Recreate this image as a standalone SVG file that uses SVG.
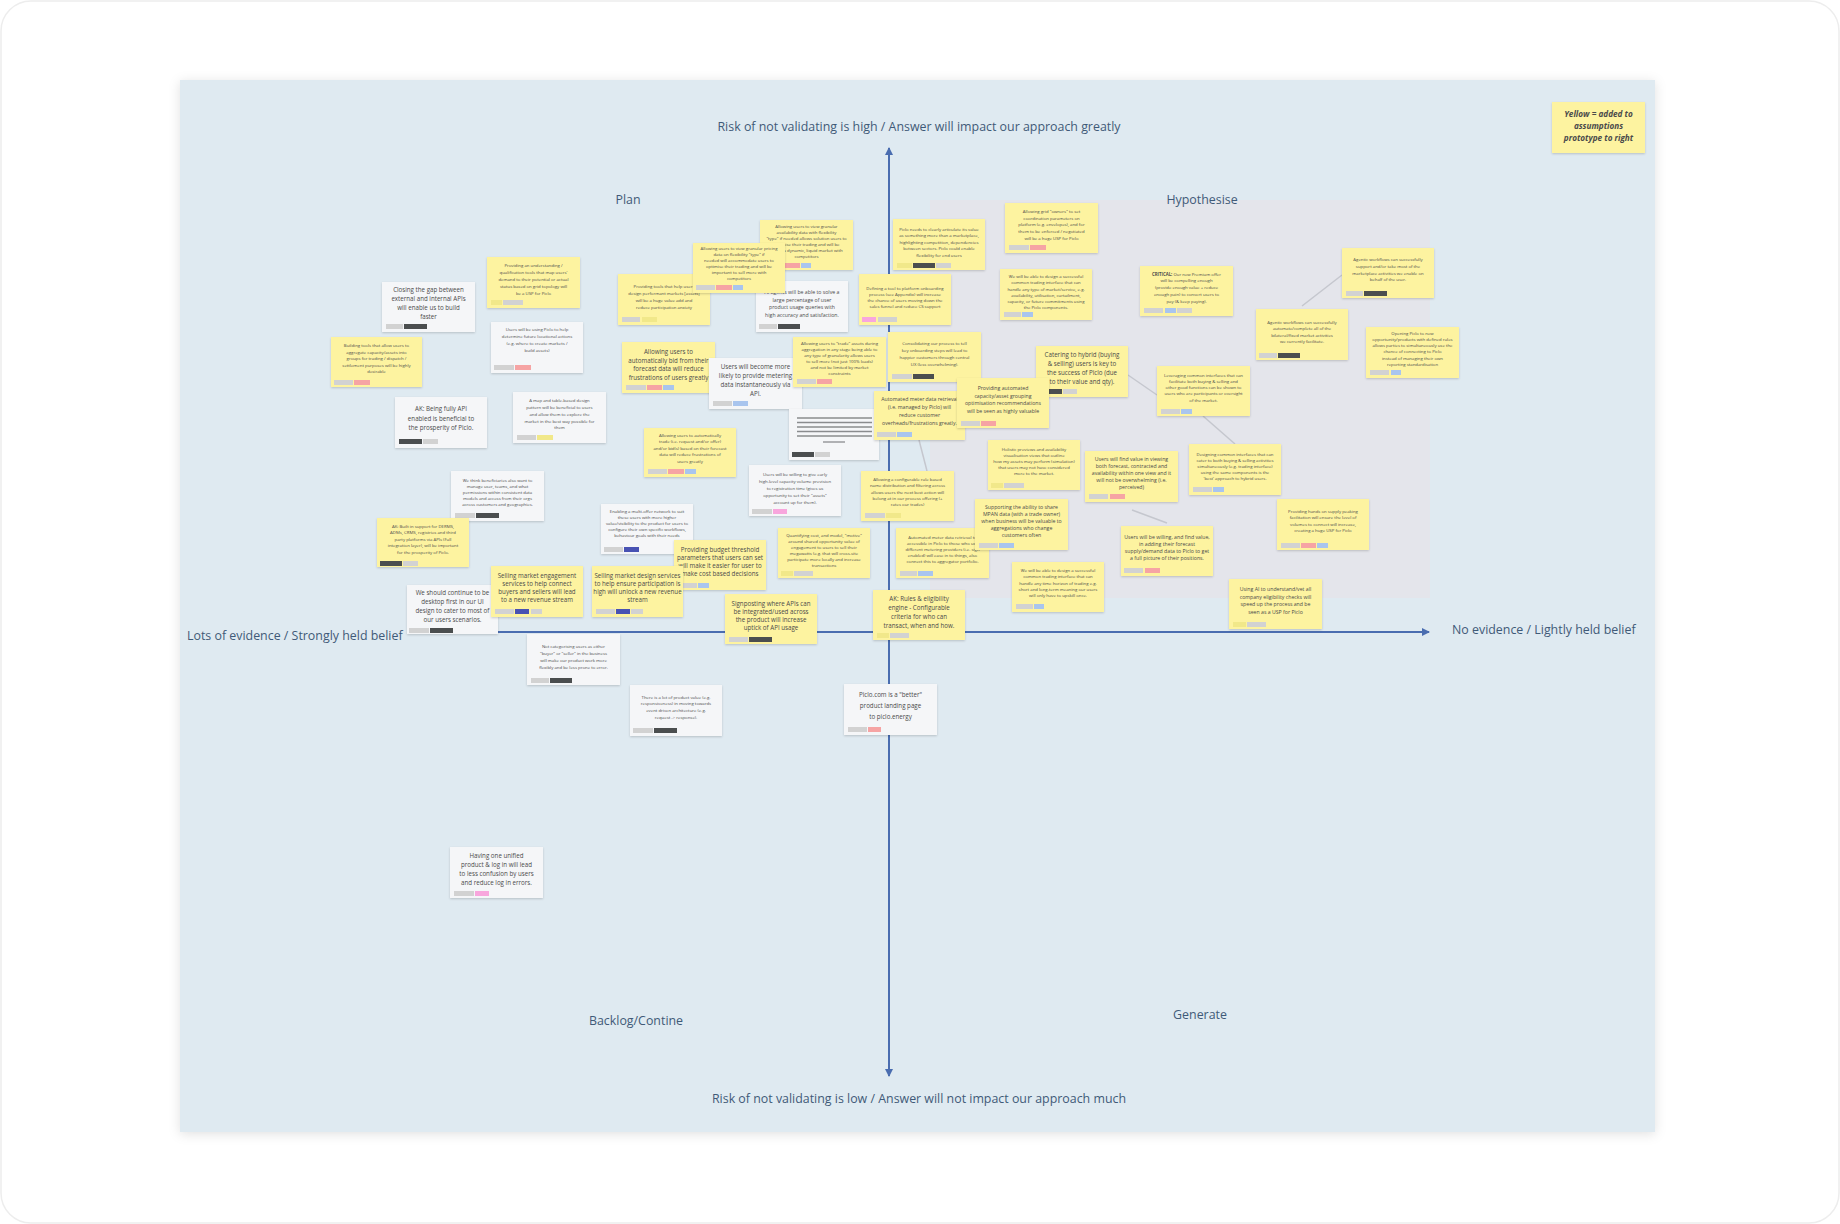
<svg xmlns="http://www.w3.org/2000/svg" width="1840" height="1224" viewBox="0 0 1840 1224">
<defs>
<filter id="sh" x="-10%" y="-10%" width="120%" height="130%"><feDropShadow dx="0" dy="1" stdDeviation="1" flood-color="#000" flood-opacity="0.18"/></filter>
<filter id="bsh" x="-5%" y="-5%" width="110%" height="110%"><feDropShadow dx="0" dy="2" stdDeviation="6" flood-color="#000" flood-opacity="0.12"/></filter>
<marker id="ar" viewBox="0 0 8 8" refX="7" refY="4" markerWidth="4" markerHeight="4" orient="auto-start-reverse"><path d="M0,0 L8,4 L0,8 z" fill="#4a6db0"/></marker>
<style>
.ny{fill:#fdf3a0;filter:url(#sh)}
.nw{fill:#f5f6f8;filter:url(#sh)}
.t{font-family:"Open Sans","Noto Sans",sans-serif;fill:#4a4a4a;text-anchor:middle}
.s{font-size:4.3px}
.ms{font-size:5.2px}
.m{font-size:6.2px}
.g{fill:#d2d2d2}.d{fill:#4b4e4f}.p{fill:#f6a4a4}.b{fill:#a9c5ee}.yy{fill:#f1e88a}.i{fill:#4852b3}.k{fill:#f8a6dd}
.ax{stroke:#4a6db0;stroke-width:2;fill:none}
.cn{stroke:#c5c7ce;stroke-width:1.5;fill:none}
.lab{font-family:"Open Sans","Noto Sans",sans-serif;font-size:12.4px;fill:#3f5a78}
.ln{stroke:#8a8c8e;stroke-width:1.3}
</style>
</defs>
<rect x="0" y="0" width="1840" height="1224" fill="#ffffff"/>
<rect x="1" y="1" width="1838" height="1222" rx="30" fill="none" stroke="#ededed" stroke-width="1.5"/>
<rect x="180" y="80" width="1475" height="1052" fill="#dfeaf1" filter="url(#bsh)"/>
<rect x="930" y="200" width="500" height="398" fill="#e4e5eb"/>

<g id="labels">
<text class="lab" x="919" y="131" text-anchor="middle">Risk of not validating is high / Answer will impact our approach greatly</text>
<text class="lab" x="919" y="1103" text-anchor="middle">Risk of not validating is low / Answer will not impact our approach much</text>
<text class="lab" x="187" y="640">Lots of evidence / Strongly held belief</text>
<text class="lab" x="1452" y="634">No evidence / Lightly held belief</text>
<text class="lab" x="628" y="204" text-anchor="middle">Plan</text>
<text class="lab" x="1202" y="204" text-anchor="middle">Hypothesise</text>
<text class="lab" x="636" y="1025" text-anchor="middle">Backlog/Contine</text>
<text class="lab" x="1200" y="1019" text-anchor="middle">Generate</text>
</g>

<g id="connectors">
<line class="ax" x1="889" y1="148" x2="889" y2="1076" marker-start="url(#ar)" marker-end="url(#ar)"/>
<line class="ax" x1="412" y1="632" x2="1429" y2="632" marker-end="url(#ar)"/>
<line class="cn" x1="1302" y1="306" x2="1342" y2="275"/>
<line class="cn" x1="1128" y1="375" x2="1157" y2="395"/>
<line class="cn" x1="1203" y1="416" x2="1235" y2="444"/>
<line class="cn" x1="1132" y1="510" x2="1167" y2="523"/>
<line class="cn" x1="919" y1="440" x2="927" y2="471"/>
</g>

<g id="legend">
<rect x="1552" y="102" width="93" height="51" class="ny"/>
<text class="t" font-size="8.2px" font-weight="700" font-style="italic" fill="#444"><tspan x="1598.5" y="117">Yellow = added to</tspan><tspan x="1598.5" y="129">assumptions</tspan><tspan x="1598.5" y="141">prototype to right</tspan></text>
</g>

<g id="n1"><rect class="nw" x="382" y="282" width="93" height="50"/>
<text class="t m"><tspan x="428.5" y="292">Closing the gap between</tspan><tspan x="428.5" y="301">external and internal APIs</tspan><tspan x="428.5" y="310">will enable us to build</tspan><tspan x="428.5" y="319">faster</tspan></text>
<rect class="g" x="386" y="324" width="17" height="5"/><rect class="d" x="404" y="324" width="23" height="5"/></g>

<g id="n2"><rect class="ny" x="487" y="257" width="93" height="51"/>
<text class="t s"><tspan x="533.5" y="266.5">Providing an understanding /</tspan><tspan x="533.5" y="273.5">qualification tools that map users'</tspan><tspan x="533.5" y="280.5">demand to their potential or actual</tspan><tspan x="533.5" y="287.5">status based on grid topology will</tspan><tspan x="533.5" y="294.5">be a USP for Piclo</tspan></text>
<rect class="yy" x="491" y="300" width="11" height="5"/><rect class="g" x="503" y="300" width="20" height="5"/></g>

<g id="n3"><rect class="ny" x="331" y="337" width="91" height="50"/>
<text class="t s"><tspan x="376.5" y="347">Building tools that allow users to</tspan><tspan x="376.5" y="353.5">aggregate capacity/assets into</tspan><tspan x="376.5" y="360">groups for trading / dispatch /</tspan><tspan x="376.5" y="366.5">settlement purposes will be highly</tspan><tspan x="376.5" y="373">desirable</tspan></text>
<rect class="g" x="334" y="380" width="19" height="5"/><rect class="p" x="354" y="380" width="16" height="5"/></g>

<g id="n4"><rect class="nw" x="491" y="322" width="92" height="51"/>
<text class="t s"><tspan x="537" y="331">Users will be using Piclo to help</tspan><tspan x="537" y="338">determine future locational actions</tspan><tspan x="537" y="345">(e.g. where to create markets /</tspan><tspan x="537" y="352">build assets)</tspan></text>
<rect class="g" x="494" y="365" width="20" height="5"/><rect class="p" x="515" y="365" width="16" height="5"/></g>

<g id="n5"><rect class="nw" x="395" y="397" width="92" height="51"/>
<text class="t m"><tspan x="441" y="411">AK: Being fully API</tspan><tspan x="441" y="420.5">enabled is beneficial to</tspan><tspan x="441" y="430">the prosperity of Piclo.</tspan></text>
<rect class="d" x="399" y="439" width="23" height="5"/><rect class="g" x="423" y="439" width="15" height="5"/></g>

<g id="n6"><rect class="nw" x="513" y="392" width="93" height="51"/>
<text class="t s"><tspan x="559.5" y="401.5">A map and table-based design</tspan><tspan x="559.5" y="408.5">pattern will be beneficial to users</tspan><tspan x="559.5" y="415.5">and allow them to explore the</tspan><tspan x="559.5" y="422.5">market in the best way possible for</tspan><tspan x="559.5" y="429">them</tspan></text>
<rect class="g" x="517" y="435" width="19" height="5"/><rect class="yy" x="537" y="435" width="16" height="5"/></g>

<g id="n7"><rect class="ny" x="618" y="274" width="92" height="51"/>
<text class="t s"><tspan x="664" y="287.5">Providing tools that help users</tspan><tspan x="664" y="294.5">design performant markets [assets]</tspan><tspan x="664" y="301.5">will be a huge value add and</tspan><tspan x="664" y="308.5">reduce participation anxiety</tspan></text>
<rect class="g" x="622" y="317" width="18" height="5"/><rect class="yy" x="642" y="317" width="15" height="5"/></g>

<g id="n9"><rect class="ny" x="760" y="220" width="93" height="50"/>
<text class="t s"><tspan x="806.5" y="227.5">Allowing users to view granular</tspan><tspan x="806.5" y="233.5">availability data with flexibility</tspan><tspan x="806.5" y="239.5">"type" if needed allows solution users to</tspan><tspan x="806.5" y="245.5">optimise their trading and will be</tspan><tspan x="806.5" y="251.5">key to a dynamic, liquid market with</tspan><tspan x="806.5" y="257.5">competitors</tspan></text>
<rect class="g" x="763" y="263" width="20" height="5"/><rect class="p" x="785" y="263" width="15" height="5"/><rect class="b" x="801" y="263" width="10" height="5"/></g>

<g id="n10"><rect class="nw" x="756" y="281" width="92" height="51"/>
<text class="t ms"><tspan x="802" y="294">AI agents will be able to solve a</tspan><tspan x="802" y="301.5">large percentage of user</tspan><tspan x="802" y="309">product usage queries with</tspan><tspan x="802" y="316.5">high accuracy and satisfaction.</tspan></text>
<rect class="g" x="759" y="324" width="18" height="5"/><rect class="d" x="778" y="324" width="22" height="5"/></g>

<g id="n8"><rect class="ny" x="693" y="243" width="92" height="50"/>
<text class="t s"><tspan x="739" y="249.5">Allowing users to view granular pricing</tspan><tspan x="739" y="255.5">data on flexibility "type" if</tspan><tspan x="739" y="261.5">needed will accommodate users to</tspan><tspan x="739" y="267.5">optimise their trading and will be</tspan><tspan x="739" y="273.5">important to sell more with</tspan><tspan x="739" y="279.5">competitors</tspan></text>
<rect class="g" x="696" y="285" width="19" height="5"/><rect class="p" x="716" y="285" width="16" height="5"/><rect class="b" x="733" y="285" width="10" height="5"/></g>

<g id="n11"><rect class="ny" x="622" y="342" width="93" height="51"/>
<text class="t m"><tspan x="668.5" y="354">Allowing users to</tspan><tspan x="668.5" y="362.5">automatically bid from their</tspan><tspan x="668.5" y="371">forecast data will reduce</tspan><tspan x="668.5" y="379.5">frustrations of users greatly</tspan></text>
<rect class="g" x="626" y="385" width="20" height="5"/><rect class="p" x="647" y="385" width="15" height="5"/><rect class="b" x="663" y="385" width="11" height="5"/></g>

<g id="n12"><rect class="nw" x="709" y="358" width="93" height="51"/>
<text class="t m"><tspan x="755.5" y="369">Users will become more</tspan><tspan x="755.5" y="378">likely to provide metering</tspan><tspan x="755.5" y="387">data instantaneously via</tspan><tspan x="755.5" y="395.5">API.</tspan></text>
<rect class="g" x="713" y="401" width="19" height="5"/><rect class="b" x="733" y="401" width="15" height="5"/></g>

<g id="n13"><rect class="ny" x="793" y="337" width="93" height="50"/>
<text class="t s"><tspan x="839.5" y="344.5">Allowing users to "trade" assets during</tspan><tspan x="839.5" y="350.5">aggregation in any stage being able to</tspan><tspan x="839.5" y="356.5">any type of granularity allows users</tspan><tspan x="839.5" y="362.5">to sell more (not just 100% loads)</tspan><tspan x="839.5" y="368.5">and not be limited by market</tspan><tspan x="839.5" y="374.5">constraints</tspan></text>
<rect class="g" x="797" y="379" width="19" height="5"/><rect class="p" x="817" y="379" width="15" height="5"/></g>

<g id="n14"><rect class="nw" x="789" y="409" width="90" height="51"/>
<line class="ln" x1="797" y1="418" x2="872" y2="418"/><line class="ln" x1="797" y1="422.5" x2="872" y2="422.5"/><line class="ln" x1="797" y1="427" x2="872" y2="427"/><line class="ln" x1="797" y1="431.5" x2="872" y2="431.5"/><line class="ln" x1="797" y1="436" x2="872" y2="436"/><line class="ln" x1="823" y1="442" x2="845" y2="442"/>
<rect class="d" x="792" y="452" width="22" height="5"/><rect class="g" x="815" y="452" width="15" height="5"/></g>

<g id="n15"><rect class="ny" x="859" y="274" width="92" height="51"/>
<text class="t s"><tspan x="905" y="289.5">Defining a tool to platform onboarding</tspan><tspan x="905" y="295.5">process (see Appendix) will increase</tspan><tspan x="905" y="301.5">the chance of users moving down the</tspan><tspan x="905" y="307.5">sales funnel and reduce CS support</tspan></text>
<rect class="k" x="862" y="317" width="14" height="5"/><rect class="g" x="878" y="317" width="19" height="5"/></g>

<g id="n16"><rect class="ny" x="888" y="332" width="93" height="50"/>
<text class="t s"><tspan x="934.5" y="344.5">Consolidating our process to tell</tspan><tspan x="934.5" y="351.5">key onboarding steps will lead to</tspan><tspan x="934.5" y="358.5">happier customers through central</tspan><tspan x="934.5" y="365.5">UX (less overwhelming).</tspan></text>
<rect class="g" x="892" y="374" width="20" height="5"/><rect class="d" x="913" y="374" width="21" height="5"/></g>

<g id="n17"><rect class="ny" x="874" y="391" width="91" height="49"/>
<text class="t ms"><tspan x="919.5" y="401">Automated meter data retrieval</tspan><tspan x="919.5" y="409">(i.e. managed by Piclo) will</tspan><tspan x="919.5" y="417">reduce customer</tspan><tspan x="919.5" y="425">overheads/frustrations greatly.</tspan></text>
<rect class="g" x="877" y="432" width="19" height="5"/><rect class="b" x="897" y="432" width="15" height="5"/></g>

<g id="n18"><rect class="ny" x="893" y="219" width="92" height="51"/>
<text class="t s"><tspan x="939" y="230.5">Piclo needs to clearly articulate its value</tspan><tspan x="939" y="237">as something more than a marketplace,</tspan><tspan x="939" y="243.5">highlighting competition, dependencies</tspan><tspan x="939" y="250">between sectors. Piclo could enable</tspan><tspan x="939" y="256.5">flexibility for end users</tspan></text>
<rect class="yy" x="897" y="263" width="15" height="5"/><rect class="d" x="913" y="263" width="22" height="5"/><rect class="g" x="936" y="263" width="15" height="5"/></g>

<g id="n19"><rect class="ny" x="1005" y="203" width="93" height="50"/>
<text class="t s"><tspan x="1051.5" y="212.5">Allowing grid "owners" to set</tspan><tspan x="1051.5" y="219.5">coordination parameters on</tspan><tspan x="1051.5" y="226">platform (e.g. envelopes), and for</tspan><tspan x="1051.5" y="232.5">them to be enforced / negotiated</tspan><tspan x="1051.5" y="239.5">will be a huge USP for Piclo</tspan></text>
<rect class="g" x="1009" y="245" width="20" height="5"/><rect class="p" x="1030" y="245" width="16" height="5"/></g>

<g id="n20"><rect class="ny" x="1000" y="269" width="92" height="51"/>
<text class="t s"><tspan x="1046" y="277.5">We will be able to design a successful</tspan><tspan x="1046" y="284">common trading interface that can</tspan><tspan x="1046" y="290.5">handle any type of market/service, e.g.</tspan><tspan x="1046" y="296.5">availability, utilisation, curtailment,</tspan><tspan x="1046" y="302.5">capacity, or future commitments using</tspan><tspan x="1046" y="308.5">the Piclo components.</tspan></text>
<rect class="g" x="1004" y="312" width="17" height="5"/><rect class="b" x="1022" y="312" width="11" height="5"/></g>

<g id="n21"><rect class="ny" x="1140" y="266" width="93" height="50"/>
<text class="t s"><tspan x="1186.5" y="275.5"><tspan font-weight="700">CRITICAL:</tspan> Our new Premium offer</tspan><tspan x="1186.5" y="281.5">will be compelling enough</tspan><tspan x="1186.5" y="288.5">(provide enough value + reduce</tspan><tspan x="1186.5" y="295.5">enough pain) to convert users to</tspan><tspan x="1186.5" y="302.5">pay (&amp; keep paying).</tspan></text>
<rect class="g" x="1144" y="308" width="19" height="5"/><rect class="b" x="1165" y="308" width="11" height="5"/><rect class="g" x="1177" y="308" width="15" height="5"/></g>

<g id="n22"><rect class="ny" x="1036" y="346" width="92" height="51"/>
<text class="t m"><tspan x="1082" y="357">Catering to hybrid (buying</tspan><tspan x="1082" y="366">&amp; selling) users is key to</tspan><tspan x="1082" y="375">the success of Piclo (due</tspan><tspan x="1082" y="384">to their value and qty).</tspan></text>
<rect class="d" x="1040" y="389" width="22" height="5"/><rect class="g" x="1063" y="389" width="14" height="5"/></g>

<g id="n23"><rect class="ny" x="957" y="378" width="92" height="50"/>
<text class="t ms"><tspan x="1003" y="390">Providing automated</tspan><tspan x="1003" y="397.5">capacity/asset grouping</tspan><tspan x="1003" y="405">optimisation recommendations</tspan><tspan x="1003" y="412.5">will be seen as highly valuable</tspan></text>
<rect class="g" x="961" y="421" width="19" height="5"/><rect class="p" x="981" y="421" width="15" height="5"/></g>

<g id="n24"><rect class="ny" x="1157" y="366" width="93" height="50"/>
<text class="t s"><tspan x="1203.5" y="376.5">Leveraging common interfaces that can</tspan><tspan x="1203.5" y="382.5">facilitate both buying &amp; selling and</tspan><tspan x="1203.5" y="388.5">other good functions can be shown to</tspan><tspan x="1203.5" y="395">users who are participants or oversight</tspan><tspan x="1203.5" y="401.5">of the market.</tspan></text>
<rect class="g" x="1161" y="409" width="19" height="5"/><rect class="b" x="1181" y="409" width="11" height="5"/></g>

<g id="n25"><rect class="ny" x="1342" y="248" width="92" height="50"/>
<text class="t s"><tspan x="1388" y="260.5">Agentic workflows can successfully</tspan><tspan x="1388" y="267.5">support and/or take most of the</tspan><tspan x="1388" y="274.5">marketplace activities we enable on</tspan><tspan x="1388" y="281">behalf of the user.</tspan></text>
<rect class="g" x="1346" y="291" width="17" height="5"/><rect class="d" x="1364" y="291" width="23" height="5"/></g>

<g id="n26"><rect class="ny" x="1256" y="309" width="92" height="51"/>
<text class="t s"><tspan x="1302" y="323.5">Agentic workflows can successfully</tspan><tspan x="1302" y="330">automate/complete all of the</tspan><tspan x="1302" y="336.5">bilateral/fixed market activities</tspan><tspan x="1302" y="343">we currently facilitate.</tspan></text>
<rect class="g" x="1259" y="353" width="18" height="5"/><rect class="d" x="1278" y="353" width="22" height="5"/></g>

<g id="n27"><rect class="ny" x="1366" y="327" width="93" height="51"/>
<text class="t s"><tspan x="1412.5" y="334.5">Opening Piclo to new</tspan><tspan x="1412.5" y="340.5">opportunity/products with defined rules</tspan><tspan x="1412.5" y="346.5">allows parties to simultaneously use the</tspan><tspan x="1412.5" y="353">chance of connecting to Piclo</tspan><tspan x="1412.5" y="359.5">instead of managing their own</tspan><tspan x="1412.5" y="365.5">reporting standardisation</tspan></text>
<rect class="g" x="1370" y="370" width="19" height="5"/><rect class="b" x="1391" y="370" width="10" height="5"/></g>

<g id="n28"><rect class="ny" x="1189" y="444" width="92" height="51"/>
<text class="t s"><tspan x="1235" y="455.5">Designing common interfaces that can</tspan><tspan x="1235" y="461.5">cater to both buying &amp; selling activities</tspan><tspan x="1235" y="467.5">simultaneously (e.g. trading interface)</tspan><tspan x="1235" y="473.5">using the same components is the</tspan><tspan x="1235" y="479.5">'best' approach to hybrid users.</tspan></text>
<rect class="g" x="1193" y="487" width="19" height="5"/><rect class="b" x="1213" y="487" width="11" height="5"/></g>

<g id="n30"><rect class="ny" x="1085" y="451" width="93" height="51"/>
<text class="t ms"><tspan x="1131.5" y="461">Users will find value in viewing</tspan><tspan x="1131.5" y="468">both forecast, contracted and</tspan><tspan x="1131.5" y="475">availability within one view and it</tspan><tspan x="1131.5" y="482">will not be overwhelming (i.e.</tspan><tspan x="1131.5" y="489">perceived)</tspan></text>
<rect class="g" x="1089" y="494" width="19" height="5"/><rect class="p" x="1110" y="494" width="15" height="5"/></g>

<g id="n31"><rect class="ny" x="1121" y="526" width="92" height="50"/>
<text class="t ms"><tspan x="1167" y="539">Users will be willing, and find value,</tspan><tspan x="1167" y="546">in adding their forecast</tspan><tspan x="1167" y="553">supply/demand data to Piclo to get</tspan><tspan x="1167" y="560">a full picture of their positions.</tspan></text>
<rect class="g" x="1124" y="568" width="19" height="5"/><rect class="p" x="1145" y="568" width="15" height="5"/></g>

<g id="n32"><rect class="ny" x="988" y="440" width="92" height="50"/>
<text class="t s"><tspan x="1034" y="450.5">Holistic previews and availability</tspan><tspan x="1034" y="456.5">visualisation views that outline</tspan><tspan x="1034" y="462.5">how my assets may perform (simulation)</tspan><tspan x="1034" y="468.5">that users may not have considered</tspan><tspan x="1034" y="474.5">more to the market.</tspan></text>
<rect class="yy" x="991" y="483" width="12" height="5"/><rect class="g" x="1004" y="483" width="20" height="5"/></g>

<g id="n33"><rect class="ny" x="861" y="471" width="93" height="50"/>
<text class="t s"><tspan x="907.5" y="480.5">Allowing a configurable rule based</tspan><tspan x="907.5" y="487">name distribution and filtering across</tspan><tspan x="907.5" y="493.5">allows users the next best action will</tspan><tspan x="907.5" y="499.5">belong at in our process offering (+</tspan><tspan x="907.5" y="505.5">rates our trades)</tspan></text>
<rect class="g" x="865" y="513" width="20" height="5"/><rect class="yy" x="886" y="513" width="15" height="5"/></g>

<g id="n35"><rect class="ny" x="896" y="528" width="93" height="50"/>
<text class="t s"><tspan x="942.5" y="539">Automated meter data retrieval to</tspan><tspan x="942.5" y="545">accessible in Piclo to those who use</tspan><tspan x="942.5" y="551">different metering providers (i.e. sign</tspan><tspan x="942.5" y="557">enabled) will ease in to things, also</tspan><tspan x="942.5" y="563">connect this to aggregator portfolio.</tspan></text>
<rect class="g" x="900" y="571" width="17" height="5"/><rect class="b" x="918" y="571" width="15" height="5"/></g>

<g id="n34"><rect class="ny" x="975" y="499" width="93" height="51"/>
<text class="t ms"><tspan x="1021.5" y="509">Supporting the ability to share</tspan><tspan x="1021.5" y="516">MPAN data (with a trade owner)</tspan><tspan x="1021.5" y="523">when business will be valuable to</tspan><tspan x="1021.5" y="530">aggregations who change</tspan><tspan x="1021.5" y="537">customers often</tspan></text>
<rect class="g" x="979" y="543" width="19" height="5"/><rect class="b" x="999" y="543" width="15" height="5"/></g>

<g id="n36"><rect class="ny" x="1012" y="562" width="92" height="50"/>
<text class="t s"><tspan x="1058" y="571.5">We will be able to design a successful</tspan><tspan x="1058" y="578">common trading interface that can</tspan><tspan x="1058" y="584.5">handle any time horizon of trading e.g.</tspan><tspan x="1058" y="590.5">short and long-term meaning our users</tspan><tspan x="1058" y="596.5">will only have to upskill once.</tspan></text>
<rect class="g" x="1016" y="604" width="17" height="5"/><rect class="b" x="1034" y="604" width="10" height="5"/></g>

<g id="n37"><rect class="ny" x="873" y="590" width="92" height="50"/>
<text class="t m"><tspan x="919" y="601">AK: Rules &amp; eligibility</tspan><tspan x="919" y="610">engine - Configurable</tspan><tspan x="919" y="619">criteria for who can</tspan><tspan x="919" y="628">transact, when and how.</tspan></text>
<rect class="yy" x="877" y="633" width="12" height="5"/><rect class="g" x="890" y="633" width="19" height="5"/></g>

<g id="n38"><rect class="ny" x="1277" y="499" width="92" height="51"/>
<text class="t s"><tspan x="1323" y="512.5">Providing hands on supply peaking</tspan><tspan x="1323" y="519">facilitation will ensure the level of</tspan><tspan x="1323" y="525.5">volumes to connect will increase,</tspan><tspan x="1323" y="532">creating a huge USP for Piclo</tspan></text>
<rect class="g" x="1281" y="543" width="19" height="5"/><rect class="p" x="1301" y="543" width="15" height="5"/><rect class="b" x="1317" y="543" width="11" height="5"/></g>

<g id="n39"><rect class="ny" x="1229" y="579" width="93" height="50"/>
<text class="t ms"><tspan x="1275.5" y="591">Using AI to understand/vet all</tspan><tspan x="1275.5" y="598.5">company eligibility checks will</tspan><tspan x="1275.5" y="606">speed up the process and be</tspan><tspan x="1275.5" y="613.5">seen as a USP for Piclo</tspan></text>
<rect class="yy" x="1233" y="622" width="13" height="5"/><rect class="g" x="1247" y="622" width="19" height="5"/></g>

<g id="n40"><rect class="nw" x="451" y="471" width="93" height="50"/>
<text class="t s"><tspan x="497.5" y="481.5">We think beneficiaries also want to</tspan><tspan x="497.5" y="487.5">manage user, teams, and what</tspan><tspan x="497.5" y="493.5">permissions within consistent data</tspan><tspan x="497.5" y="499.5">models and access from their orgs</tspan><tspan x="497.5" y="505.5">across customers and geographies.</tspan></text>
<rect class="g" x="455" y="513" width="20" height="5"/><rect class="d" x="476" y="513" width="23" height="5"/></g>

<g id="n41"><rect class="ny" x="377" y="518" width="92" height="49"/>
<text class="t s"><tspan x="423" y="527.5">AK: Built in support for DERMS,</tspan><tspan x="423" y="534">ADMs, CRMS, registries and third</tspan><tspan x="423" y="540.5">party platforms via APIs (Full</tspan><tspan x="423" y="547">integration layer), will be important</tspan><tspan x="423" y="553.5">for the prosperity of Piclo.</tspan></text>
<rect class="d" x="380" y="561" width="22" height="5"/><rect class="g" x="403" y="561" width="15" height="5"/></g>

<g id="n42"><rect class="nw" x="407" y="585" width="91" height="49"/>
<text class="t m"><tspan x="452.5" y="595">We should continue to be</tspan><tspan x="452.5" y="604">desktop first in our UI</tspan><tspan x="452.5" y="613">design to cater to most of</tspan><tspan x="452.5" y="622">our users scenarios.</tspan></text>
<rect class="g" x="409" y="628" width="20" height="5"/><rect class="d" x="430" y="628" width="23" height="5"/></g>

<g id="n43"><rect class="ny" x="491" y="566" width="92" height="51"/>
<text class="t m"><tspan x="537" y="578">Selling market engagement</tspan><tspan x="537" y="586">services to help connect</tspan><tspan x="537" y="594">buyers and sellers will lead</tspan><tspan x="537" y="602">to a new revenue stream</tspan></text>
<rect class="g" x="495" y="609" width="19" height="5"/><rect class="i" x="515" y="609" width="14" height="5"/><rect class="g" x="531" y="609" width="11" height="5"/></g>

<g id="n45"><rect class="nw" x="601" y="504" width="92" height="50"/>
<text class="t s"><tspan x="647" y="512.5">Enabling a multi-offer network to suit</tspan><tspan x="647" y="518.5">these users with more higher</tspan><tspan x="647" y="524.5">value/visibility to the product for users to</tspan><tspan x="647" y="530.5">configure their own specific workflows,</tspan><tspan x="647" y="536.5">behaviour goals with their needs</tspan></text>
<rect class="g" x="604" y="547" width="19" height="5"/><rect class="i" x="624" y="547" width="15" height="5"/></g>

<g id="n46"><rect class="ny" x="644" y="428" width="92" height="49"/>
<text class="t s"><tspan x="690" y="436.5">Allowing users to automatically</tspan><tspan x="690" y="443">trade (i.e. request and/or offer)</tspan><tspan x="690" y="449.5">and/or bid(s) based on their forecast</tspan><tspan x="690" y="456">data will reduce frustrations of</tspan><tspan x="690" y="462.5">users greatly</tspan></text>
<rect class="g" x="648" y="469" width="19" height="5"/><rect class="p" x="668" y="469" width="16" height="5"/><rect class="b" x="685" y="469" width="11" height="5"/></g>

<g id="n47"><rect class="nw" x="749" y="465" width="92" height="51"/>
<text class="t s" font-size="4.7px"><tspan x="795" y="476">Users will be willing to give early</tspan><tspan x="795" y="483">high-level capacity volume prevision</tspan><tspan x="795" y="490">to registration time (gives us</tspan><tspan x="795" y="497">opportunity to set their "assets"</tspan><tspan x="795" y="504">account up for them).</tspan></text>
<rect class="g" x="752" y="509" width="20" height="5"/><rect class="k" x="773" y="509" width="14" height="5"/></g>

<g id="n48"><rect class="ny" x="674" y="540" width="92" height="50"/>
<text class="t m" font-size="5.8px"><tspan x="720" y="552">Providing budget threshold</tspan><tspan x="720" y="560">parameters that users can set</tspan><tspan x="720" y="568">will make it easier for user to</tspan><tspan x="720" y="576">make cost based decisions</tspan></text>
<rect class="g" x="678" y="583" width="19" height="5"/><rect class="b" x="698" y="583" width="11" height="5"/></g>

<g id="n44"><rect class="ny" x="592" y="566" width="91" height="51"/>
<text class="t m" font-size="5.8px"><tspan x="637.5" y="578">Selling market design services</tspan><tspan x="637.5" y="586">to help ensure participation is</tspan><tspan x="637.5" y="594">high will unlock a new revenue</tspan><tspan x="637.5" y="602">stream</tspan></text>
<rect class="g" x="596" y="609" width="19" height="5"/><rect class="i" x="616" y="609" width="14" height="5"/><rect class="g" x="631" y="609" width="12" height="5"/></g>

<g id="n49"><rect class="ny" x="778" y="528" width="92" height="50"/>
<text class="t s"><tspan x="824" y="536.5">Quantifying cost, and model, "motive"</tspan><tspan x="824" y="542.5">around shared opportunity value of</tspan><tspan x="824" y="548.5">engagement to users to sell their</tspan><tspan x="824" y="554.5">megawatts (e.g. that will cross-site</tspan><tspan x="824" y="560.5">participate more locally and increase</tspan><tspan x="824" y="566.5">transactions</tspan></text>
<rect class="yy" x="781" y="571" width="12" height="5"/><rect class="g" x="794" y="571" width="19" height="5"/></g>

<g id="n50"><rect class="ny" x="725" y="594" width="92" height="50"/>
<text class="t m" font-size="5.8px"><tspan x="771" y="606">Signposting where APIs can</tspan><tspan x="771" y="614">be integrated/used across</tspan><tspan x="771" y="622">the product will increase</tspan><tspan x="771" y="630">uptick of API usage</tspan></text>
<rect class="g" x="729" y="637" width="19" height="5"/><rect class="d" x="749" y="637" width="23" height="5"/></g>

<g id="n51"><rect class="nw" x="527" y="634" width="93" height="51"/>
<text class="t s"><tspan x="573.5" y="647.5">Not categorising users as either</tspan><tspan x="573.5" y="654.5">"buyer" or "seller" in the business</tspan><tspan x="573.5" y="661.5">will make our product work more</tspan><tspan x="573.5" y="668.5">flexibly and be less prone to error.</tspan></text>
<rect class="g" x="531" y="678" width="18" height="5"/><rect class="d" x="550" y="678" width="22" height="5"/></g>

<g id="n52"><rect class="nw" x="630" y="685" width="92" height="51"/>
<text class="t s"><tspan x="676" y="698.5">There is a lot of product value (e.g.</tspan><tspan x="676" y="705">responsiveness) in moving towards</tspan><tspan x="676" y="711.5">event driven architecture (e.g.</tspan><tspan x="676" y="718.5">request -&gt; response).</tspan></text>
<rect class="g" x="633" y="728" width="20" height="5"/><rect class="d" x="654" y="728" width="23" height="5"/></g>

<g id="n53"><rect class="nw" x="450" y="847" width="93" height="51"/>
<text class="t m"><tspan x="496.5" y="858">Having one unified</tspan><tspan x="496.5" y="867">product &amp; log in will lead</tspan><tspan x="496.5" y="876">to less confusion by users</tspan><tspan x="496.5" y="885">and reduce log in errors.</tspan></text>
<rect class="g" x="454" y="891" width="20" height="5"/><rect class="k" x="475" y="891" width="14" height="5"/></g>

<g id="n54"><rect class="nw" x="844" y="684" width="93" height="51"/>
<text class="t m"><tspan x="890.5" y="697">Piclo.com is a "better"</tspan><tspan x="890.5" y="708">product landing page</tspan><tspan x="890.5" y="719">to piclo.energy</tspan></text>
<rect class="g" x="848" y="727" width="19" height="5"/><rect class="p" x="868" y="727" width="13" height="5"/></g>
</svg>
